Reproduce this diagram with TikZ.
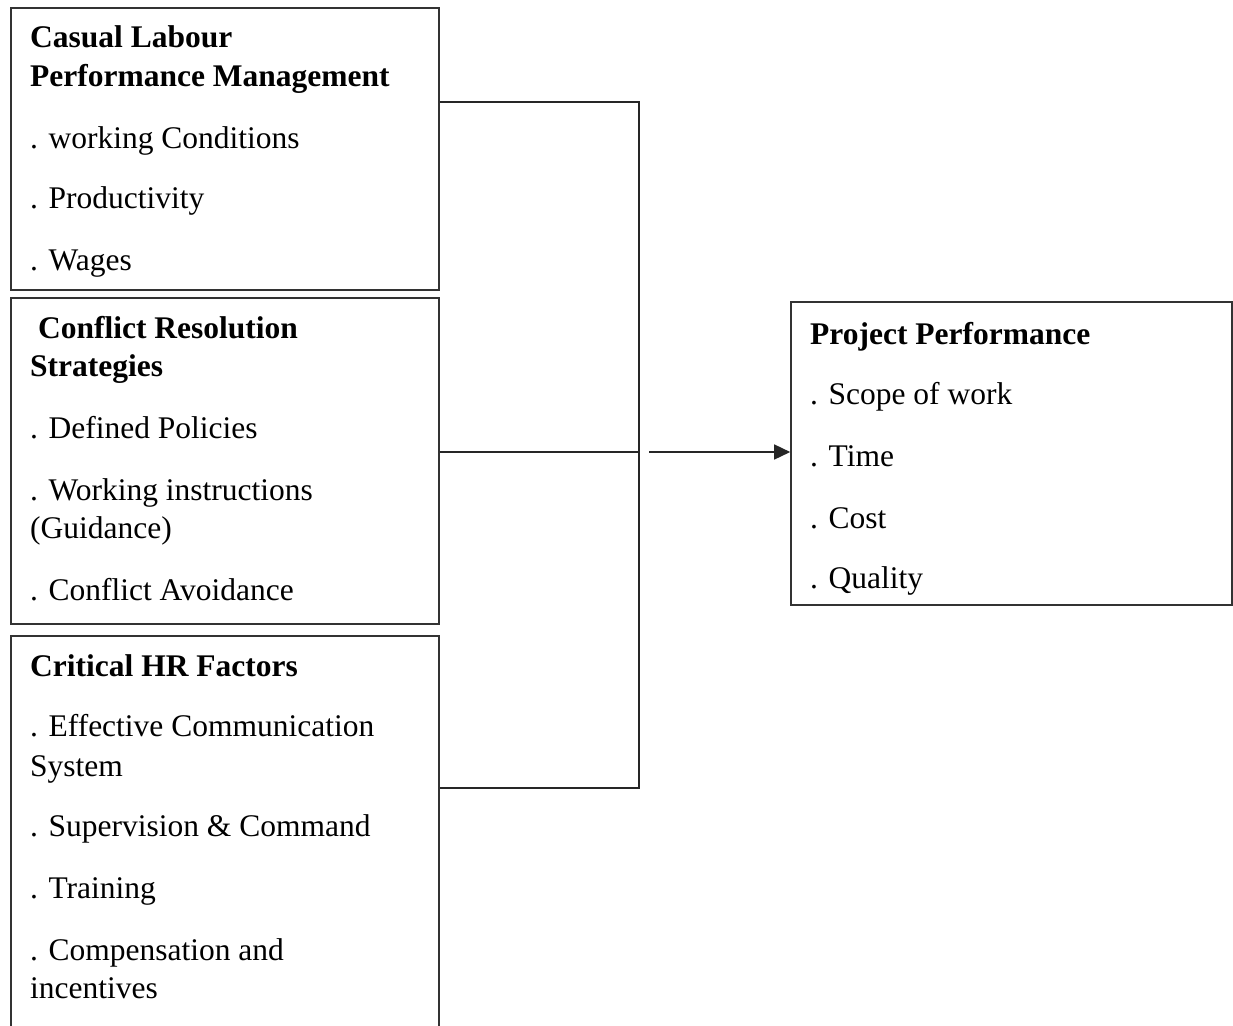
\documentclass[tikz,border=0pt]{standalone}
\usepackage{fontspec}
\setmainfont{Liberation Serif}
\usetikzlibrary{arrows.meta}
\begin{document}
\begin{tikzpicture}[x=1pt,y=-1pt,
  box/.style={draw=black!80,line width=1.6pt,rectangle,inner sep=0pt},
  lbl/.style={anchor=base west,inner sep=0pt,font=\fontsize{31.5}{36}\selectfont},
  hd/.style={lbl,font=\fontsize{31.5}{36}\selectfont\bfseries},
  conn/.style={draw=black!85,line width=1.5pt}]
\useasboundingbox (0,0) rectangle (1233,1025);
\clip (0,0) rectangle (1233,1025);
\fill[white] (0,0) rectangle (1233,1025);
% boxes
\node[box,minimum width=428pt,minimum height=282pt] (b1) at (225,149) {};
\node[box,minimum width=428pt,minimum height=326pt] (b2) at (225,461) {};
\node[box,minimum width=428pt,minimum height=410pt] (b3) at (225,841) {};
\node[box,minimum width=441pt,minimum height=303pt] (b4) at (1011.5,453.5) {};
% box 1 text
\node[hd] (t11) at (30,48) {Casual Labour};
\node[hd] (t12) at (30,86) {Performance Management};
\node[lbl] (t13) at (30,148) {. working Conditions};
\node[lbl] (t14) at (30,208) {. Productivity};
\node[lbl] (t15) at (30,270) {. Wages};
% box 2 text
\node[hd] (t21) at (30,338) {\ Conflict Resolution};
\node[hd] (t22) at (30,376) {Strategies};
\node[lbl] (t23) at (30,438) {. Defined Policies};
\node[lbl] (t24) at (30,500) {. Working instructions};
\node[lbl] (t25) at (30,538) {(Guidance)};
\node[lbl] (t26) at (30,600) {. Conflict Avoidance};
% box 3 text
\node[hd] (t31) at (30,676) {Critical HR Factors};
\node[lbl] (t32) at (30,736) {. Effective Communication};
\node[lbl] (t33) at (30,776) {System};
\node[lbl] (t34) at (30,836) {. Supervision \& Command};
\node[lbl] (t35) at (30,898) {. Training};
\node[lbl] (t36) at (30,960) {. Compensation and};
\node[lbl] (t37) at (30,998) {incentives};
% box 4 text
\node[hd] (t41) at (810,344) {Project Performance};
\node[lbl] (t42) at (810,404) {. Scope of work};
\node[lbl] (t43) at (810,466) {. Time};
\node[lbl] (t44) at (810,528) {. Cost};
\node[lbl] (t45) at (810,588) {. Quality};
% connectors
\coordinate (j1) at (639,102);
\coordinate (j2) at (639,452);
\coordinate (j3) at (639,788);
\coordinate (a0) at (649,452);
\draw[conn] (b1.east |- j1) -- (j1) -- (j3) -- (b3.east |- j3);
\draw[conn] (b2.east |- j2) -- (j2);
\draw[conn,-{Triangle[length=16pt,width=15pt]}] (a0) -- (b4.west |- a0);
\end{tikzpicture}
\end{document}
